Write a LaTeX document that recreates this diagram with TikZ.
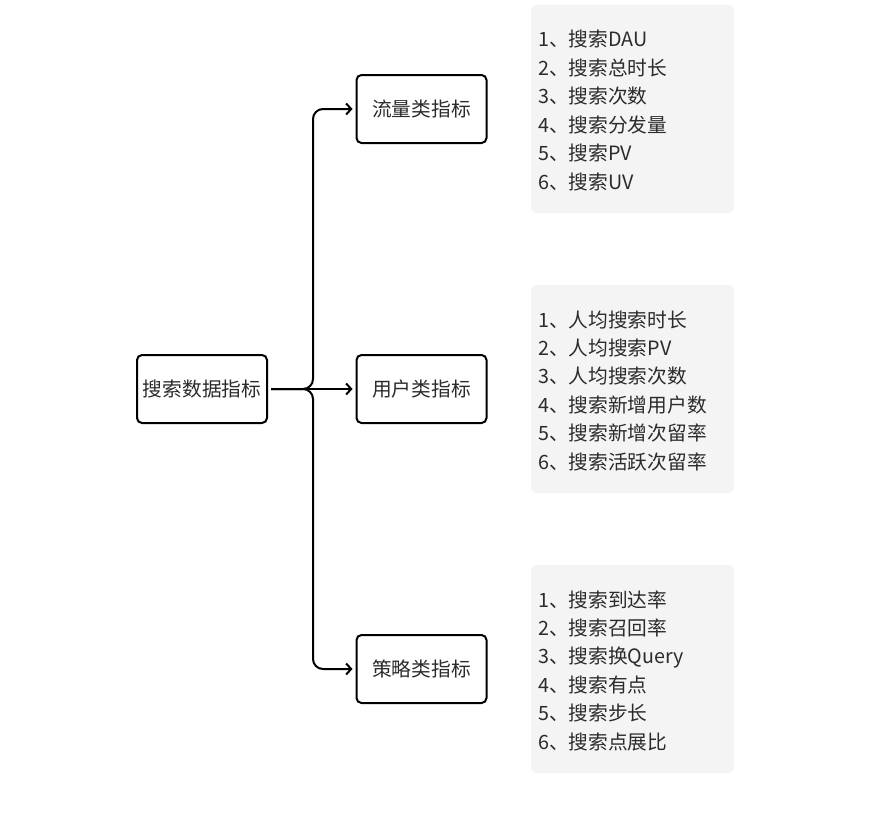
\documentclass[tikz,border=0pt]{standalone}
\usepackage{fontspec}
\setmainfont{Noto Sans CJK SC}
\usetikzlibrary{arrows.meta}
\definecolor{txt}{HTML}{2B2B2B}
\definecolor{panelgray}{HTML}{F4F4F4}
\begin{document}
\begin{tikzpicture}[x=1pt,y=-1pt,
  box/.style={draw=black, line width=2pt, rounded corners=5pt, minimum width=130pt, minimum height=68pt, font=\fontsize{19.7}{23}\selectfont, text=txt, inner sep=0pt},
  panelbox/.style={fill=panelgray, rounded corners=6pt, minimum width=203pt, minimum height=208pt, inner sep=0pt},
  item/.style={anchor=base west, font=\fontsize{19.7}{23}\selectfont, text=txt, inner sep=0pt},
  link/.style={line width=2pt, rounded corners=10pt, shorten <=3pt, shorten >=3pt, -{Straight Barb[length=5pt,width=11pt]}}]
\useasboundingbox (0,0) rectangle (896,816);
\fill[white] (0,0) rectangle (896,816);

\node[box] (root) at (202,389) {搜索数据指标};
\node[box] (m1) at (421.5,109) {流量类指标};
\node[box] (m2) at (421.5,389) {用户类指标};
\node[box] (m3) at (421.5,669) {策略类指标};

\coordinate (j) at (313,389);
\draw[link] (root.east) -- (j) |- (m1.west);
\draw[link] (root.east) -- (m2.west);
\draw[link] (root.east) -- (j) |- (m3.west);

\node[panelbox] (p1) at (632.5,109) {};
\node[panelbox] (p2) at (632.5,389) {};
\node[panelbox] (p3) at (632.5,669) {};

\foreach \t [count=\i] in {1、搜索DAU,2、搜索总时长,3、搜索次数,4、搜索分发量,5、搜索PV,6、搜索UV}
  \node[item] (a\i) at (538,{5+42+(\i-1)*28.4}) {\t};
\foreach \t [count=\i] in {1、人均搜索时长,2、人均搜索PV,3、人均搜索次数,4、搜索新增用户数,5、搜索新增次留率,6、搜索活跃次留率}
  \node[item] (b\i) at (538,{285+42+(\i-1)*28.4}) {\t};
\foreach \t [count=\i] in {1、搜索到达率,2、搜索召回率,3、搜索换Query,4、搜索有点,5、搜索步长,6、搜索点展比}
  \node[item] (c\i) at (538,{565+42+(\i-1)*28.4}) {\t};
\end{tikzpicture}
\end{document}
